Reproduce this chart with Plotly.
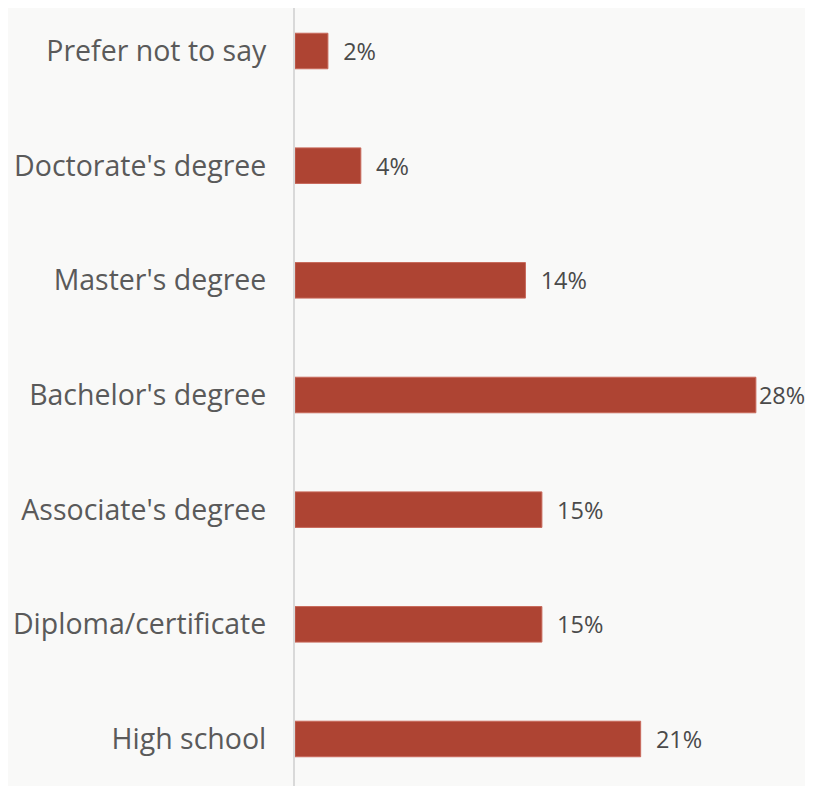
import plotly.graph_objects as go

categories = ["Prefer not to say", "Doctorate's degree", "Master's degree",
              "Bachelor's degree", "Associate's degree", "Diploma/certificate",
              "High school"]
values = [2, 4, 14, 28, 15, 15, 21]

nbsp = "\u00a0"
max_v = max(values)
labels = [(nbsp * 2 if v != max_v else "") + f"{v}%" for v in values]

fig = go.Figure(go.Bar(
    x=values,
    y=categories,
    orientation="h",
    width=0.31,
    marker=dict(color="#ae4433", line=dict(color="#c8695b", width=1)),
    text=labels,
    textposition="outside",
    textfont=dict(family="Open Sans", size=23.5, color="#4a4a4a"),
    cliponaxis=False,
))

fig.update_layout(
    width=805, height=778,
    margin=dict(l=287, r=0, t=0, b=0),
    paper_bgcolor="#f9f9f8",
    plot_bgcolor="#f9f9f8",
    showlegend=False,
    xaxis=dict(range=[0, 31.47], visible=False, fixedrange=True),
    yaxis=dict(
        categoryorder="array", categoryarray=categories,
        range=[6.41, -0.375],
        showline=True, linecolor="#d9d9d9", linewidth=2,
        showgrid=False, zeroline=False, ticks="",
        ticklabelstandoff=21,
        tickfont=dict(family="Open Sans", size=28.5, color="#5a5a5a"),
    ),
)

fig.write_html("out.html")
